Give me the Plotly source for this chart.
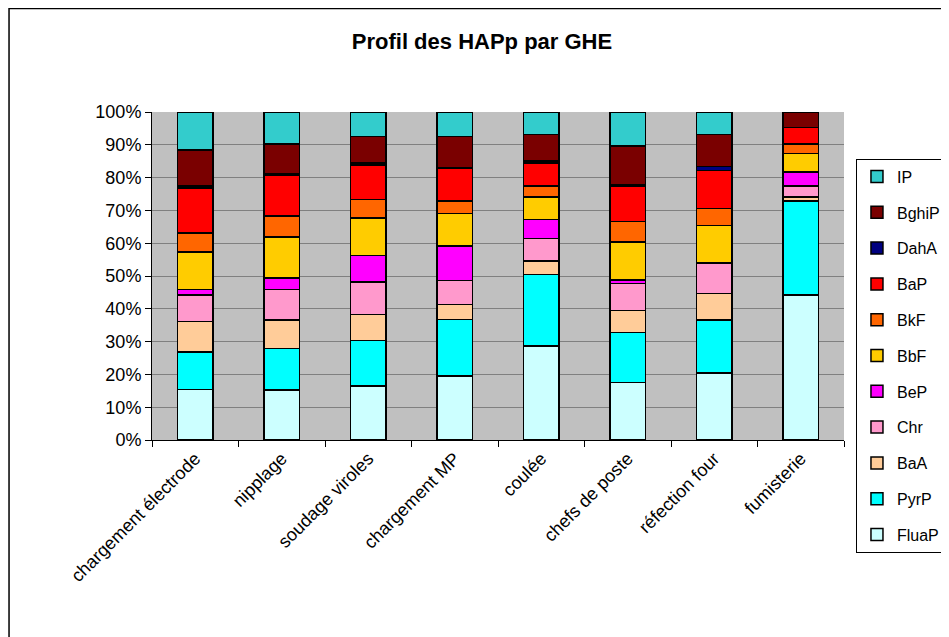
import plotly.graph_objects as go

# Postes (GHE)
categories = [
    "chargement électrode", "nipplage", "soudage viroles", "chargement MP",
    "coulée", "chefs de poste", "réfection four", "fumisterie",
]

# Part de chaque HAP dans le profil (%)
FluaP = [15.4, 15.3, 16.4, 19.5, 28.6, 17.6, 20.5, 44.2]
PyrP = [11.5, 12.6, 13.9, 17.2, 21.9, 15.1, 16.1, 28.7]
BaA = [9.2, 8.7, 8.0, 4.6, 4.0, 6.8, 8.1, 1.2]
Chr = [8.1, 9.3, 9.8, 7.4, 6.9, 8.2, 9.3, 3.4]
BeP = [1.7, 3.5, 8.1, 10.5, 5.8, 1.1, 0.0, 4.2]
BbF = [11.4, 12.5, 11.5, 9.9, 6.9, 11.5, 11.4, 5.7]
BkF = [5.8, 6.4, 5.7, 3.8, 3.4, 6.3, 5.2, 2.8]
BaP = [13.7, 12.5, 10.4, 9.8, 6.9, 10.7, 11.6, 5.1]
DahA = [0.6, 0.3, 0.7, 0.2, 0.6, 0.4, 1.2, 0.0]
BghiP = [11.0, 9.1, 8.0, 9.6, 8.2, 12.0, 9.8, 4.7]
IP = [11.6, 9.8, 7.5, 7.5, 6.8, 10.3, 6.8, 0.0]

series = [
    ("FluaP", FluaP, "#CCFFFF"),
    ("PyrP", PyrP, "#00FFFF"),
    ("BaA", BaA, "#FFCC99"),
    ("Chr", Chr, "#FF99CC"),
    ("BeP", BeP, "#FF00FF"),
    ("BbF", BbF, "#FFCC00"),
    ("BkF", BkF, "#FF6600"),
    ("BaP", BaP, "#FF0000"),
    ("DahA", DahA, "#000080"),
    ("BghiP", BghiP, "#7A0000"),
    ("IP", IP, "#33CCCC"),
]

fig = go.Figure()

for i, (name, values, color) in enumerate(series):
    fig.add_trace(
        go.Bar(
            x=categories,
            y=values,
            name=name,
            legendgroup=name,  # one group per trace so tracegroupgap spaces the items
            legendrank=len(series) - i,  # top of the stack first in the legend
            marker=dict(color=color, line=dict(color="black", width=1.5)),
        )
    )

# page body has an 8px margin, so the figure is 8px smaller than the window
fig.update_layout(
    barmode="stack",
    barnorm="percent",
    bargap=0.59,
    width=941,
    height=629,
    margin=dict(l=144, r=105, t=104, b=197, autoexpand=False),
    paper_bgcolor="white",
    plot_bgcolor="#C0C0C0",
    font=dict(family="Liberation Sans, Arial, sans-serif", size=18, color="black"),
    title=dict(
        text="<b>Profil des HAPp par GHE</b>",
        x=0.5037,
        xanchor="center",
        y=0.9475,
        yanchor="middle",
        font=dict(size=22),
    ),
    legend=dict(
        traceorder="grouped",
        tracegroupgap=12,
        maxheight=460,
        x=1.0173,
        xanchor="left",
        y=0.858,
        yanchor="top",
        bgcolor="white",
        bordercolor="black",
        borderwidth=1,
        font=dict(size=16),
        itemclick=False,
    ),
    xaxis=dict(
        tickangle=-45,
        ticks="outside",
        tickson="boundaries",
        ticklen=6,
        tickcolor="black",
        showline=True,
        linecolor="black",
        linewidth=1,
        showgrid=False,
    ),
    yaxis=dict(
        range=[0, 100],
        dtick=10,
        ticksuffix="%",
        ticks="outside",
        ticklen=6,
        tickcolor="black",
        showline=True,
        linecolor="black",
        linewidth=1,
        showgrid=True,
        gridcolor="#808080",
        gridwidth=1,
        zeroline=False,
    ),
    shapes=[
        dict(
            type="rect",
            xref="paper",
            yref="paper",
            x0=-0.2066,
            x1=1.2,
            y0=-0.7,
            y1=1.3155,
            line=dict(color="black", width=1.5),
            layer="below",
        )
    ],
)

fig.write_html("out.html")
